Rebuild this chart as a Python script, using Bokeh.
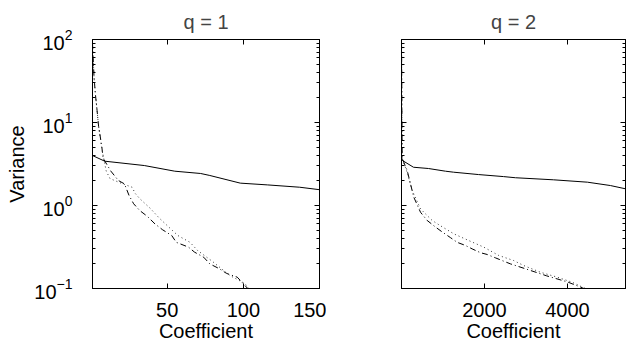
from bokeh.plotting import figure
from bokeh.layouts import row
from bokeh.models import Range1d, FixedTicker, LinearAxis, LogAxis, CustomJSTickFormatter
from bokeh.embed import file_html
from bokeh.resources import INLINE

# ---------------- data ----------------
titles = ["q = 1", "q = 2"]
x_label = "Coefficient"
y_label = "Variance"

# q = 1
q1_solid_x = [1, 9, 35, 55, 72, 78, 98, 116, 137, 150]
q1_solid_y = [4.0, 3.42, 3.03, 2.59, 2.43, 2.30, 1.86, 1.77, 1.66, 1.55]

q1_dashdot_x = [1, 2, 3, 4, 5, 7, 8, 11, 13, 18, 22, 25, 28, 32, 37, 42, 47, 53,
                56, 64, 68, 74, 78, 84, 89, 96, 101, 104]
q1_dashdot_y = [90, 35, 21, 14, 9, 5.3, 3.7, 3.0, 2.6, 2.0, 1.82, 1.32, 1.05, 0.87,
                0.74, 0.60, 0.51, 0.435, 0.36, 0.315, 0.274, 0.238, 0.198, 0.174,
                0.152, 0.137, 0.109, 0.095]

q1_dotted_x = [1, 2, 3, 4, 5, 7, 10, 12.5, 20, 27, 29, 32, 39, 45, 52, 57, 65, 70,
               80, 91, 101, 104]
q1_dotted_y = [90, 35, 21, 14, 9, 5.0, 2.6, 2.11, 1.85, 1.66, 1.40, 1.21, 0.92, 0.70,
               0.53, 0.435, 0.36, 0.287, 0.21, 0.144, 0.115, 0.098]

# q = 2
q2_solid_x = [1, 17, 289, 650, 1060, 1253, 1855, 2458, 2747, 3663, 4482, 5036, 5398]
q2_solid_y = [3.9, 3.5, 2.89, 2.79, 2.59, 2.52, 2.36, 2.23, 2.16, 2.04, 1.91, 1.74, 1.59]

q2_dashdot_x = [1, 5, 10, 17, 137, 217, 296, 458, 619, 819, 981, 1181, 1342, 1542,
                1704, 1904, 2065, 2265, 2427, 2627, 3000, 3500, 4000, 4313, 4500]
q2_dashdot_y = [90, 40, 12, 3.7, 2.64, 1.82, 1.26, 0.83, 0.66, 0.55, 0.48, 0.41, 0.36,
                0.33, 0.30, 0.27, 0.257, 0.234, 0.217, 0.198, 0.172, 0.142, 0.12,
                0.104, 0.095]

q2_dotted_x = [1, 5, 10, 17, 137, 258, 458, 740, 940, 1260, 1622, 1983, 2345, 2706,
               2947, 3349, 3752, 4113, 4434, 4600]
q2_dotted_y = [90, 40, 12, 3.7, 2.5, 1.52, 0.91, 0.66, 0.57, 0.456, 0.378, 0.315, 0.25,
               0.217, 0.189, 0.157, 0.137, 0.119, 0.1, 0.092]

y_ticks = [0.1, 1, 10, 100]
y_minor = [m * d for d in (0.1, 1, 10) for m in range(2, 10)]
q1_xticks = [50, 100, 150]
q2_xticks = [2000, 4000]

FONT = "Liberation Sans"
FS = "20px"


def style_axis(ax, labels=True, label_standoff=6, title_standoff=3):
    ax.axis_line_color = "black"
    ax.major_tick_line_color = "black"
    ax.minor_tick_line_color = "black"
    ax.major_tick_in = 5
    ax.major_tick_out = 0
    ax.minor_tick_in = 3
    ax.minor_tick_out = 0
    ax.major_label_text_font = FONT
    ax.major_label_text_font_size = FS
    ax.major_label_text_color = "black"
    ax.axis_label_text_font = FONT
    ax.axis_label_text_font_size = FS
    ax.axis_label_text_font_style = "normal"
    ax.axis_label_text_color = "black"
    ax.major_label_standoff = label_standoff
    ax.axis_label_standoff = title_standoff
    if not labels:
        ax.formatter = CustomJSTickFormatter(code="return '';")
        ax.major_label_standoff = label_standoff


def make(title, xr, xticks, sx, sy, dx, dy, ox, oy, width, bl, br, ylabels):
    p = figure(width=width, height=350, y_axis_type="log",
               x_range=Range1d(*xr), y_range=Range1d(0.1, 100),
               output_backend="svg", toolbar_location=None,
               min_border_left=bl, min_border_right=br,
               min_border_top=39, min_border_bottom=62)
    p.title.text = title
    p.title.align = "center"
    p.title.vertical_align = "top"
    p.title.text_font = FONT
    p.title.text_font_size = FS
    p.title.text_font_style = "normal"
    p.title.standoff = 10
    p.xgrid.visible = False
    p.ygrid.visible = False
    p.outline_line_color = "black"
    p.background_fill_color = "white"
    p.border_fill_color = "white"

    p.xaxis.ticker = FixedTicker(ticks=xticks)
    p.yaxis.ticker = FixedTicker(ticks=y_ticks, minor_ticks=y_minor)
    p.xaxis.axis_label = x_label
    style_axis(p.xaxis[0], label_standoff=14, title_standoff=0)
    style_axis(p.yaxis[0], labels=ylabels, label_standoff=20, title_standoff=3)
    if ylabels:
        p.yaxis.axis_label = y_label

    top = LinearAxis(ticker=FixedTicker(ticks=xticks))
    style_axis(top, labels=False, label_standoff=0)
    p.add_layout(top, "above")
    right = LogAxis(ticker=FixedTicker(ticks=y_ticks, minor_ticks=y_minor))
    style_axis(right, labels=False, label_standoff=0)
    p.add_layout(right, "right")

    p.line(sx, sy, line_color="black", line_width=1)
    p.line(dx, dy, line_color="black", line_width=1, line_dash="6 3 1 3")
    p.line(ox, oy, line_color="#333333", line_width=1, line_dash="1 3")
    return p


p1 = make(titles[0], (1, 150), q1_xticks, q1_solid_x, q1_solid_y,
          q1_dashdot_x, q1_dashdot_y, q1_dotted_x, q1_dotted_y,
          width=326, bl=92, br=7, ylabels=True)
p2 = make(titles[1], (0, 5400), q2_xticks, q2_solid_x, q2_solid_y,
          q2_dashdot_x, q2_dashdot_y, q2_dotted_x, q2_dotted_y,
          width=300, bl=75, br=1, ylabels=False)

layout = row(p1, p2)
open("out.html", "w").write(file_html(layout, INLINE))
